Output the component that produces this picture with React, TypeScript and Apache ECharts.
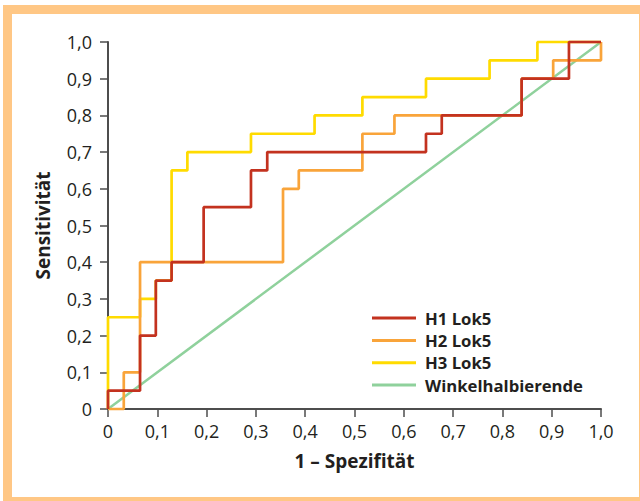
import React, { useEffect, useRef } from "react";
import * as echarts from "echarts";

// 1 – Spezifität / Sensitivität vertices of the step curves
const h1X = [0, 0, 0.065, 0.065, 0.097, 0.097, 0.129, 0.129, 0.194, 0.194, 0.29, 0.29, 0.323, 0.323, 0.645, 0.645, 0.677, 0.677, 0.839, 0.839, 0.935, 0.935, 1.0];
const h1Y = [0, 0.05, 0.05, 0.2, 0.2, 0.35, 0.35, 0.4, 0.4, 0.55, 0.55, 0.65, 0.65, 0.7, 0.7, 0.75, 0.75, 0.8, 0.8, 0.9, 0.9, 1.0, 1.0];

const h2X = [0, 0.032, 0.032, 0.065, 0.065, 0.355, 0.355, 0.387, 0.387, 0.516, 0.516, 0.581, 0.581, 0.839, 0.839, 0.903, 0.903, 1.0, 1.0];
const h2Y = [0, 0, 0.1, 0.1, 0.4, 0.4, 0.6, 0.6, 0.65, 0.65, 0.75, 0.75, 0.8, 0.8, 0.9, 0.9, 0.95, 0.95, 1.0];

const h3X = [0, 0, 0.065, 0.065, 0.097, 0.097, 0.129, 0.129, 0.161, 0.161, 0.29, 0.29, 0.419, 0.419, 0.516, 0.516, 0.645, 0.645, 0.774, 0.774, 0.871, 0.871, 1.0];
const h3Y = [0, 0.25, 0.25, 0.3, 0.3, 0.35, 0.35, 0.65, 0.65, 0.7, 0.7, 0.75, 0.75, 0.8, 0.8, 0.85, 0.85, 0.9, 0.9, 0.95, 0.95, 1.0, 1.0];

const diagX = [0, 1];
const diagY = [0, 1];

const seriesNames = ["H1 Lok5", "H2 Lok5", "H3 Lok5", "Winkelhalbierende"];
const seriesColors = ["#c3321f", "#f9a43a", "#ffdb00", "#8fd19c"];

const xAxisTitle = "1 – Spezifität";
const yAxisTitle = "Sensitivität";

const zip = (xs: number[], ys: number[]) => xs.map((x, i) => [x, ys[i]]);
const fmt = (v: number) => (v === 0 ? "0" : v.toFixed(1).replace(".", ","));

export default function App() {
  const ref = useRef<HTMLDivElement>(null);
  useEffect(() => {
    if (!ref.current) return;
    const chart = echarts.init(ref.current, null, { renderer: "svg" });
    const font = "Open Sans";
    const lineSeries = (idx: number, data: number[][], width: number) => ({
      name: seriesNames[idx],
      type: "line",
      data,
      symbol: "none",
      clip: false,
      color: seriesColors[idx],
      lineStyle: { color: seriesColors[idx], width },
    });
    chart.setOption({
      animation: false,
      backgroundColor: "#ffffff",
      textStyle: { fontFamily: font },
      graphic: [
        {
          type: "rect",
          shape: { x: 7.5, y: 9.5, width: 636, height: 492 },
          style: { fill: "none", stroke: "#ffc785", lineWidth: 9 },
          silent: true,
          z: 100,
        },
      ],
      grid: { left: 108, top: 42, width: 493, height: 367, containLabel: false },
      legend: {
        orient: "vertical",
        left: 372,
        top: 309.6,
        padding: 0,
        icon: "rect",
        itemWidth: 44,
        itemHeight: 3,
        itemGap: 5.3,
        data: seriesNames,
        textStyle: {
          fontFamily: font,
          fontSize: 16.7,
          fontWeight: "bold",
          color: "#231f20",
          lineHeight: 14,
          padding: [0, 0, 0, 4],
        },
      },
      xAxis: {
        type: "value",
        min: 0,
        max: 1,
        interval: 0.1,
        name: xAxisTitle,
        nameLocation: "middle",
        nameGap: 42,
        nameTextStyle: { fontFamily: font, fontSize: 19, fontWeight: "bold", color: "#231f20" },
        axisLine: { show: true, lineStyle: { color: "#4d4d4d", width: 2 } },
        axisTick: { show: true, length: 8, lineStyle: { color: "#4d4d4d", width: 1.5 } },
        axisLabel: { formatter: fmt, fontSize: 18, color: "#231f20", margin: 13, fontFamily: font },
        splitLine: { show: false },
      },
      yAxis: {
        type: "value",
        min: 0,
        max: 1,
        interval: 0.1,
        name: yAxisTitle,
        nameLocation: "middle",
        nameGap: 56,
        nameTextStyle: { fontFamily: font, fontSize: 19, fontWeight: "bold", color: "#231f20" },
        axisLine: { show: true, lineStyle: { color: "#4d4d4d", width: 2 } },
        axisTick: { show: true, length: 8, lineStyle: { color: "#4d4d4d", width: 1.5 } },
        axisLabel: { formatter: fmt, fontSize: 18, color: "#231f20", margin: 16, fontFamily: font },
        splitLine: { show: false },
      },
      series: [
        lineSeries(3, zip(diagX, diagY), 2.5),
        lineSeries(2, zip(h3X, h3Y), 2.7),
        lineSeries(1, zip(h2X, h2Y), 2.7),
        lineSeries(0, zip(h1X, h1Y), 2.7),
      ],
    });
    return () => chart.dispose();
  }, []);
  return (
    <div style={{ position: "absolute", left: 0, top: 0, width: 640, height: 501, background: "#fff" }}>
      <div ref={ref} style={{ width: 640, height: 501 }} />
    </div>
  );
}
